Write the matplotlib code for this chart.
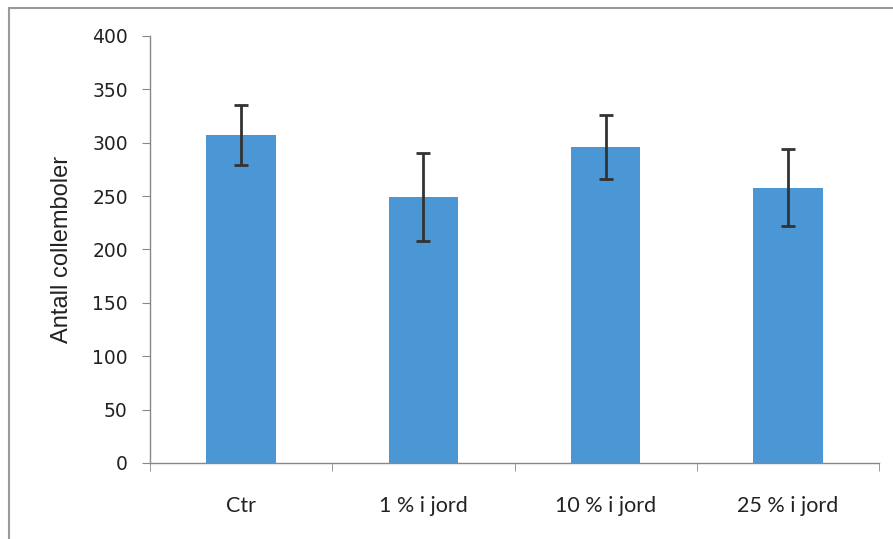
import matplotlib
matplotlib.use("Agg")
import matplotlib.pyplot as plt
from matplotlib.patches import Rectangle

categories = ["Ctr", "1 % i jord", "10 % i jord", "25 % i jord"]
values = [307, 249, 296, 258]
errors = [28, 41, 30, 36]
yticks = [0, 50, 100, 150, 200, 250, 300, 350, 400]
ylabel = "Antall collemboler"

fig = plt.figure(figsize=(8.93, 5.39), dpi=100)
ax = fig.add_axes([150/893, 76/539, 729/893, 427/539])

x = list(range(len(categories)))
ax.bar(x, values, width=0.38, color="#4B96D4", zorder=2)
ax.errorbar(x, values, yerr=errors, fmt="none", ecolor="#333333",
            elinewidth=2, capsize=5, capthick=2, zorder=3)

ax.set_xlim(-0.5, len(categories) - 0.5)
ax.set_ylim(0, 400)
ax.set_yticks(yticks)
ax.set_yticklabels([str(v) for v in yticks], family="DejaVu Sans",
                   fontsize=13.5, color="#222222")
ax.set_xticks(x)
ax.set_xticklabels(categories, family="Lato", fontsize=15.5, color="#222222")
ax.tick_params(axis="x", length=0, pad=24)
ax.set_xticks([i - 0.5 for i in range(len(categories) + 1)], minor=True)
ax.tick_params(axis="x", which="minor", length=6, color="#888888", direction="out")
ax.tick_params(axis="y", length=6, color="#888888", direction="out", pad=10)

for s in ["top", "right"]:
    ax.spines[s].set_visible(False)
for s in ["left", "bottom"]:
    ax.spines[s].set_color("#888888")
    ax.spines[s].set_linewidth(1)

ax.set_ylabel(ylabel, family="Liberation Sans", fontsize=17, color="#222222",
              labelpad=14)

fig.patches.append(Rectangle((9/893, -0.1), 1.2, 1.1 - 8/539, transform=fig.transFigure,
                             fill=False, edgecolor="#999999", linewidth=1.5))

fig.savefig("out.png", dpi=100)
